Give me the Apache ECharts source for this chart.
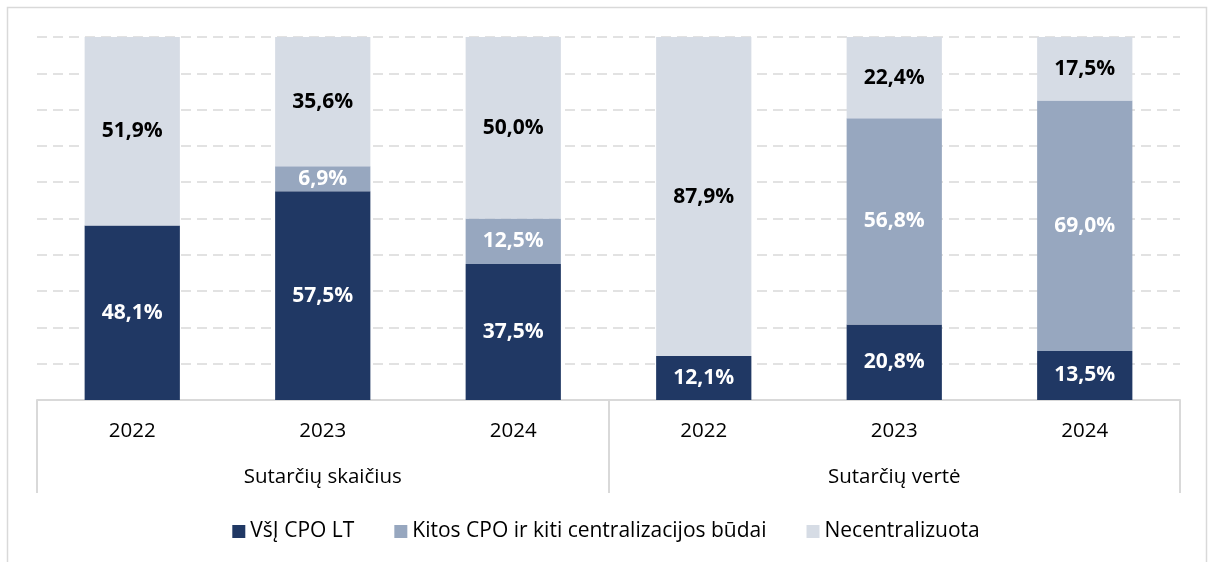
<!DOCTYPE html>
<html>
<head>
<meta charset="utf-8">
<script src="https://cdn.jsdelivr.net/npm/echarts@6/dist/echarts.min.js"></script>
<style>
  html, body { margin: 0; padding: 0; background: #fff; }
  #chart { width: 1212px; height: 562px; }
</style>
</head>
<body>
<div id="chart"></div>
<script>
// Years shown under each bar, and the two groups they belong to
const years = ['2022', '2023', '2024', '2022', '2023', '2024'];
const groups = ['Sutarčių skaičius', 'Sutarčių vertė'];

// Shares (%) per procurement route
const seriesNames = ['VšĮ CPO LT', 'Kitos CPO ir kiti centralizacijos būdai', 'Necentralizuota'];
const vsiCpo = [48.1, 57.5, 37.5, 12.1, 20.8, 13.5];
const kitosCpo = [0, 6.9, 12.5, 0, 56.8, 69.0];
const necentralizuota = [51.9, 35.6, 50.0, 87.9, 22.4, 17.5];

const colors = ['#203864', '#97A7BF', '#D6DCE5'];
const labelColors = ['#ffffff', '#ffffff', '#000000'];
const FONT = '"Open Sans", "Noto Sans", sans-serif';

const fmt = p => p.value > 0 ? p.value.toFixed(1).replace('.', ',') + '%' : '';

function makeSeries(name, data, idx) {
  return {
    name: name,
    type: 'bar',
    stack: 'total',
    barWidth: '50%',
    data: data,
    itemStyle: { color: colors[idx] },
    label: {
      show: true,
      position: 'inside',
      formatter: fmt,
      color: labelColors[idx],
      fontFamily: FONT,
      fontWeight: 'bold',
      fontSize: 21
    }
  };
}

const chart = echarts.init(document.getElementById('chart'), null, { renderer: 'canvas' });
chart.setOption({
  animation: false,
  backgroundColor: '#ffffff',
  graphic: [{
    type: 'rect',
    shape: { x: 7.5, y: 7.5, width: 1199, height: 600 },
    style: { fill: 'none', stroke: '#d9d9d9', lineWidth: 1.5 },
    silent: true,
    z: -10
  }],
  grid: { left: 37, right: 32, top: 37, bottom: 162 },
  legend: {
    top: 516,
    left: 'center',
    itemWidth: 13,
    itemHeight: 13,
    itemGap: 40,
    icon: 'rect',
    textStyle: { fontFamily: FONT, fontSize: 21, color: '#000' },
    data: seriesNames
  },
  xAxis: [
    {
      type: 'category',
      data: years,
      position: 'bottom',
      axisLine: { show: true, lineStyle: { color: '#d9d9d9', width: 2 } },
      axisTick: { show: false },
      axisLabel: { margin: 21, fontFamily: FONT, fontSize: 20.5, color: '#000' }
    },
    {
      type: 'category',
      data: groups,
      position: 'bottom',
      axisLine: { show: false },
      axisTick: { show: true, length: 93, interval: 0, lineStyle: { color: '#d9d9d9', width: 2 } },
      axisLabel: { margin: 67, fontFamily: FONT, fontSize: 20.5, color: '#000' }
    }
  ],
  yAxis: {
    type: 'value',
    min: 0,
    max: 100,
    interval: 10,
    axisLine: { show: false },
    axisTick: { show: false },
    axisLabel: { show: false },
    splitLine: { show: true, lineStyle: { color: '#d9d9d9', width: 1.5, type: [10, 6] } }
  },
  series: [
    makeSeries(seriesNames[0], vsiCpo, 0),
    makeSeries(seriesNames[1], kitosCpo, 1),
    makeSeries(seriesNames[2], necentralizuota, 2)
  ]
});
</script>
</body>
</html>
